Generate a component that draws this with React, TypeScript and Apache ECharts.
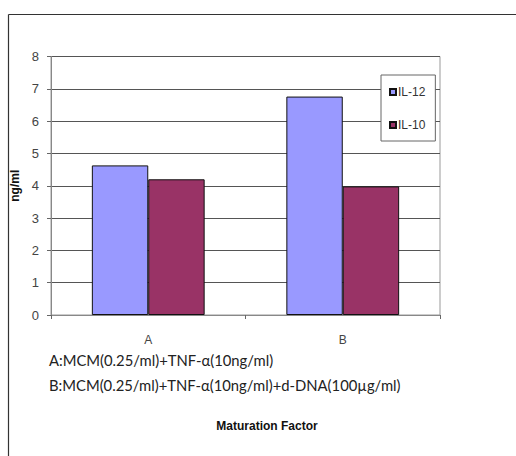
import React, { useEffect, useRef } from "react";
import * as echarts from "echarts";

const categories = ["A", "B"];
const il12 = [4.63, 6.76];
const il10 = [4.2, 3.98];
const yTicks = { min: 0, max: 8, interval: 1 };
const seriesNames = ["IL-12", "IL-10"];
const noteA = "A:MCM(0.25/ml)+TNF-α(10ng/ml)";
const noteB = "B:MCM(0.25/ml)+TNF-α(10ng/ml)+d-DNA(100µg/ml)";
const xTitle = "Maturation Factor";
const yTitle = "ng/ml";

export default function App() {
  const ref = useRef<HTMLDivElement>(null);
  useEffect(() => {
    if (!ref.current) return;
    const chart = echarts.init(ref.current, undefined, { renderer: "svg" });
    const narrow = "'Liberation Sans Narrow', 'Liberation Sans', Arial, sans-serif";
    chart.setOption({
      animation: false,
      backgroundColor: "#fff",
      grid: {
        left: 51,
        top: 56.5,
        right: 76,
        bottom: 141,
        show: true,
        borderColor: "#999",
        borderWidth: 1,
        backgroundColor: "transparent",
      },
      legend: {
        orient: "vertical",
        left: 381,
        top: 75,
        padding: [11, 10, 10, 8],
        itemGap: 21,
        itemWidth: 6,
        itemHeight: 6,
        icon: "rect",
        borderColor: "#666",
        borderWidth: 1,
        backgroundColor: "#fff",
        textStyle: { fontFamily: narrow, fontSize: 12, color: "#333", padding: [0, 0, 0, -3] },
        data: seriesNames,
      },
      xAxis: {
        type: "category",
        data: categories,
        axisLine: { lineStyle: { color: "#888", width: 1 } },
        axisTick: { show: true, length: 4, lineStyle: { color: "#666" } },
        axisLabel: { fontFamily: narrow, fontSize: 12, color: "#444", margin: 19 },
      },
      yAxis: {
        type: "value",
        min: yTicks.min,
        max: yTicks.max,
        interval: yTicks.interval,
        name: yTitle,
        nameLocation: "middle",
        nameRotate: 90,
        nameGap: 24,
        nameTextStyle: { fontFamily: "'Liberation Sans', Arial, sans-serif", fontWeight: "bold", fontSize: 12, color: "#111" },
        axisLine: { show: true, lineStyle: { color: "#888", width: 1 } },
        axisTick: { show: true, length: 4, lineStyle: { color: "#666" } },
        axisLabel: { fontFamily: narrow, fontSize: 13, color: "#444", margin: 12 },
        splitLine: { show: true, lineStyle: { color: "#555", width: 1 } },
      },
      series: [
        {
          name: seriesNames[0],
          type: "bar",
          data: il12,
          barGap: "0%",
          barCategoryGap: "42%",
          itemStyle: { color: "#9999FF", borderColor: "#111", borderWidth: 1 },
        },
        {
          name: seriesNames[1],
          type: "bar",
          data: il10,
          barGap: "0%",
          barCategoryGap: "42%",
          itemStyle: { color: "#993366", borderColor: "#111", borderWidth: 1 },
        },
      ],
      graphic: [
        {
          type: "line",
          shape: { x1: 8.5, y1: 14.5, x2: 516, y2: 14.5 },
          style: { stroke: "#333", lineWidth: 1.2 },
        },
        {
          type: "line",
          shape: { x1: 8.5, y1: 14.5, x2: 8.5, y2: 456 },
          style: { stroke: "#333", lineWidth: 1.2 },
        },
        {
          type: "text",
          x: 49,
          y: 360,
          style: { text: noteA, fontFamily: "Lato, 'Open Sans', sans-serif", fontSize: 14.8, fill: "#222", verticalAlign: "middle", align: "left" },
        },
        {
          type: "text",
          x: 49,
          y: 385,
          style: { text: noteB, fontFamily: "Lato, 'Open Sans', sans-serif", fontSize: 14.8, fill: "#222", verticalAlign: "middle", align: "left" },
        },
        {
          type: "text",
          x: 267,
          y: 426,
          style: { text: xTitle, fontFamily: "'Liberation Sans', Arial, sans-serif", fontWeight: "bold", fontSize: 12, fill: "#111", verticalAlign: "middle", align: "center" },
        },
      ],
    });
    return () => chart.dispose();
  }, []);
  return (
    <div
      ref={ref}
      style={{ position: "fixed", left: 0, top: 0, width: 516, height: 456 }}
    />
  );
}
